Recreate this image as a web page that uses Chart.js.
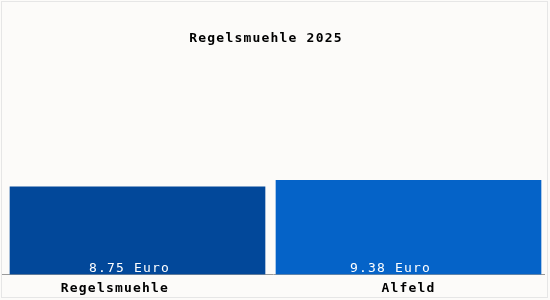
<!DOCTYPE html>
<html>
<head>
<meta charset="utf-8">
<script src="https://cdn.jsdelivr.net/npm/chart.js@4/dist/chart.umd.min.js"></script>
<style>
  html, body { margin: 0; padding: 0; background: #fcfbf9; }
  #wrap { width: 550px; height: 300px; }
</style>
</head>
<body>
<div id="wrap"><canvas id="chart" width="550" height="300"></canvas></div>
<script>
// data
const titleText = "Regelsmuehle 2025";
const categories = ["Regelsmuehle", "Alfeld"];
const prices = [8.75, 9.38];
const unit = "Euro";

// styles
const barColors = ["#02489a", "#0563c8"];
const barWidths = [255, 265];
const valueShift = [-8, -18];   // value texts sit left of bar centre in the original
const monoFont = "'DejaVu Sans Mono', 'Liberation Mono', monospace";

// one dataset per bar so each bar can have its own width
const datasets = categories.map((c, i) => ({
    label: c,
    data: categories.map((_, j) => (j === i ? prices[i] : null)),
    backgroundColor: barColors[i],
    barThickness: barWidths[i],
    borderWidth: 0
}));

const framePlugin = {
    id: "frame",
    beforeDraw(chart) {
        const ctx = chart.ctx;
        ctx.letterSpacing = "1.2px";
        ctx.save();
        ctx.fillStyle = "#fcfbf9";
        ctx.fillRect(0, 0, chart.width, chart.height);
        ctx.strokeStyle = "#e6e6e6";
        ctx.lineWidth = 1;
        ctx.strokeRect(1.5, 1.5, chart.width - 4, chart.height - 4);
        ctx.restore();
    },
    afterDraw(chart) {
        // title, sits a bit left of the middle like the original
        const ctx = chart.ctx;
        ctx.save();
        ctx.letterSpacing = "1.2px";
        ctx.font = "bold 13px " + monoFont;
        ctx.fillStyle = "#000";
        ctx.textAlign = "center";
        ctx.textBaseline = "middle";
        ctx.fillText(titleText, chart.width / 2 - 9, 39);
        ctx.restore();
    }
};

// value labels at the bottom of each bar
const valueLabels = {
    id: "valueLabels",
    afterDatasetsDraw(chart) {
        const ctx = chart.ctx;
        ctx.save();
        ctx.letterSpacing = "1.2px";
        ctx.font = "13px " + monoFont;
        ctx.fillStyle = "#ffffff";
        ctx.textAlign = "center";
        ctx.textBaseline = "middle";
        chart.data.datasets.forEach((ds, i) => {
            const meta = chart.getDatasetMeta(i);
            meta.data.forEach((bar, j) => {
                const v = ds.data[j];
                if (v == null) return;
                ctx.fillText(v.toFixed(2) + " " + unit, bar.x + valueShift[j], bar.base - 6);
            });
        });
        ctx.restore();
    }
};

new Chart(document.getElementById("chart"), {
    type: "bar",
    data: { labels: categories, datasets },
    options: {
        responsive: false,
        animation: false,
        events: [],
        layout: { padding: { left: 2, right: 6, top: 74, bottom: -2 } },
        datasets: { bar: { grouped: false } },
        scales: {
            x: {
                grid: { display: false, drawTicks: false },
                border: { display: true, color: "#9a9a9a", width: 1 },
                ticks: {
                    padding: 6,
                    color: "#000",
                    font: { family: monoFont, size: 13, weight: "bold" },
                    maxRotation: 0,
                    // first label sits left of its bar in the original
                    callback: (v, i) => i === 0 ? categories[i] + "     " : categories[i]
                }
            },
            y: {
                display: false,
                min: 0,
                max: 20
            }
        },
        plugins: {
            legend: { display: false },
            title: { display: false },
            tooltip: { enabled: false }
        }
    },
    plugins: [framePlugin, valueLabels]
});
</script>
</body>
</html>
